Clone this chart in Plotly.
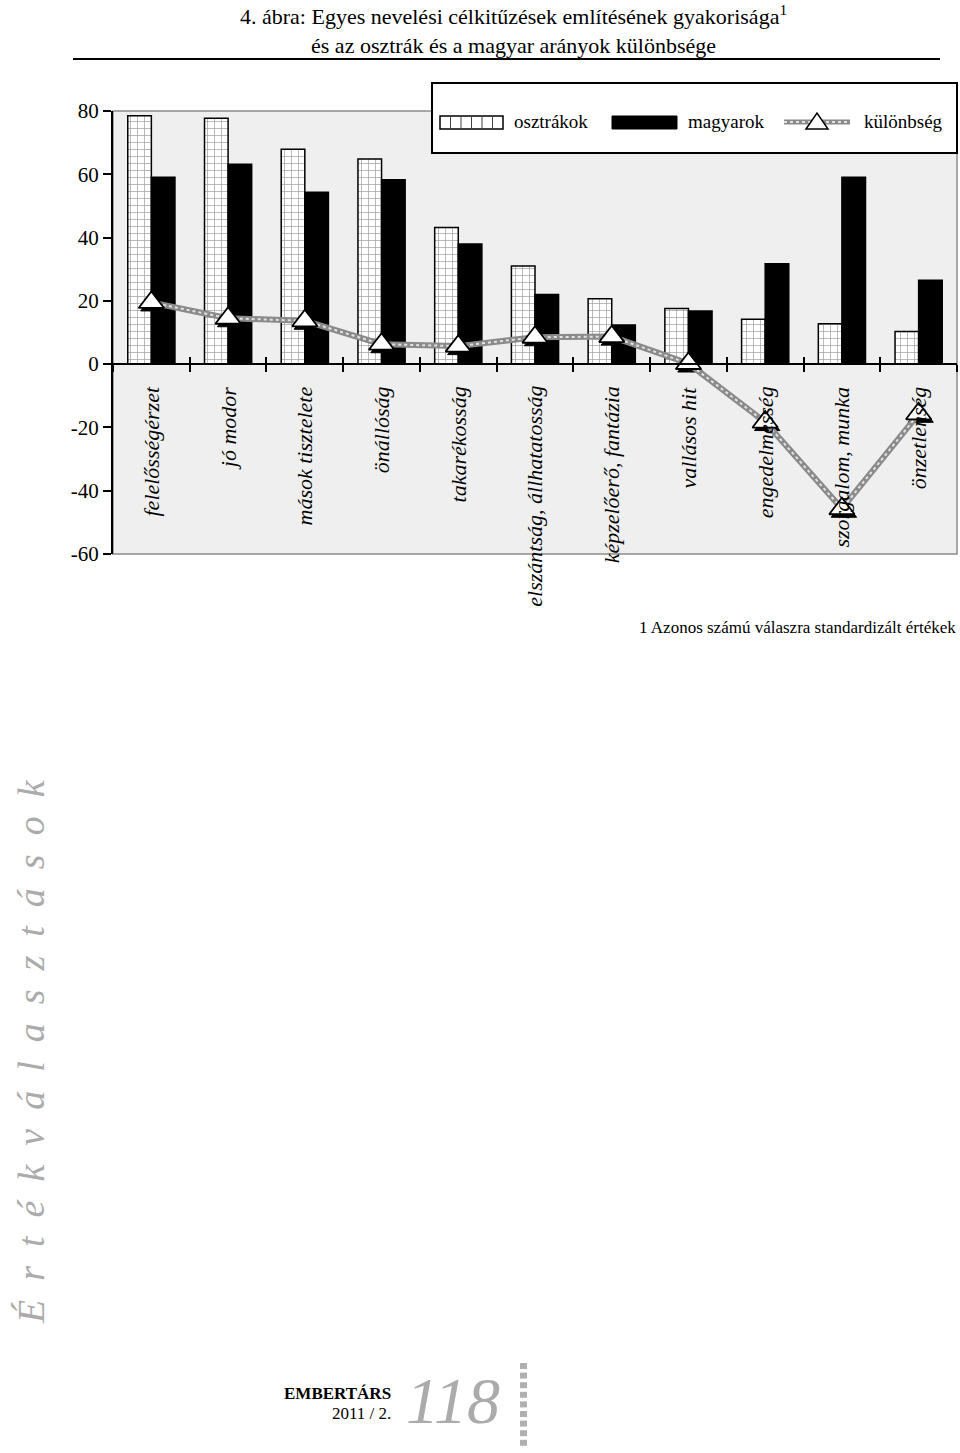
import plotly.graph_objects as go

categories = ["felelősségérzet", "jó modor", "mások tisztelete", "önállóság", "takarékosság",
              "elszántság, állhatatosság", "képzelőerő, fantázia", "vallásos hit",
              "engedelmesség", "szorgalom, munka", "önzetlenség"]
osztrakok = [78.5, 77.7, 67.9, 64.8, 43.2, 31.0, 20.7, 17.6, 14.2, 12.8, 10.3]
magyarok = [59.1, 63.2, 54.3, 58.3, 38.0, 22.0, 12.4, 16.8, 31.7, 59.1, 26.5]
kulonbseg = [19.5, 14.5, 13.7, 6.3, 5.7, 8.5, 8.7, 0.2, -18.3, -45.7, -15.7]
ytick_vals = [80, 60, 40, 20, 0, -20, -40, -60]
ytick_text = ["80", "60", "40", "20", "0", "-20", "-40", "-60"]
series_names = ["osztrákok", "magyarok", "különbség"]

W, H = 960, 1453
L, R, T, B = 113, 957, 111, 554
SERIF = "Liberation Serif"
YMIN, YMAX = -60, 80
XMIN, XMAX = -0.5, len(categories) - 0.5


def px(x):
    return (x - L) / (R - L)


def py(y):
    return (B - y) / (B - T)


# pixel shift for the marker shadow, expressed in axis units
shadow_dy = 3 * (YMAX - YMIN) / (B - T)
shadow_dx = 2 * (XMAX - XMIN) / (R - L)

fig = go.Figure()
fig.add_trace(go.Bar(
    x=categories, y=osztrakok, name=series_names[0],
    marker=dict(color="white", line=dict(color="black", width=1.5),
                pattern=dict(shape="+", size=7, solidity=0.2, fgcolor="#444", bgcolor="white")),
    hoverinfo="y"))
fig.add_trace(go.Bar(
    x=categories, y=magyarok, name=series_names[1],
    marker=dict(color="black", line=dict(color="black", width=1.5)),
    hoverinfo="y"))
# marker shadow (same data, on a slightly shifted overlay axis pair, drawn first)
fig.add_trace(go.Scatter(
    x=categories, y=kulonbseg, xaxis="x2", yaxis="y2", mode="markers",
    marker=dict(symbol="triangle-up", size=22, color="black", line=dict(color="black", width=1)),
    hoverinfo="skip"))
fig.add_trace(go.Scatter(
    x=categories, y=kulonbseg, xaxis="x3", mode="lines",
    line=dict(color="#8a8a8a", width=6), hoverinfo="skip"))
fig.add_trace(go.Scatter(
    x=categories, y=kulonbseg, xaxis="x3", mode="lines",
    line=dict(color="#e2e2e2", width=2, dash="dot"), hoverinfo="skip"))
fig.add_trace(go.Scatter(
    x=categories, y=kulonbseg, xaxis="x3", mode="markers", name=series_names[2],
    marker=dict(symbol="triangle-up", size=22, color="white", line=dict(color="black", width=1.8))))

zero_pos = (0 - YMIN) / (YMAX - YMIN)

fig.update_layout(
    width=W, height=H,
    margin=dict(l=L, r=W - R, t=T, b=H - B),
    paper_bgcolor="white", plot_bgcolor="#efefef",
    showlegend=False,
    barmode="group", bargap=0.385, bargroupgap=0,
    font=dict(family=SERIF, color="black"),
    xaxis=dict(type="category", categoryarray=categories, anchor="free", position=zero_pos,
               showline=True, linecolor="black", linewidth=2, ticks="outside", ticklen=7,
               tickwidth=2, tickcolor="black", tickson="boundaries", showticklabels=False,
               showgrid=False, zeroline=False, range=[XMIN, XMAX]),
    xaxis2=dict(type="category", categoryarray=categories, overlaying="x", anchor="y2",
                visible=False, range=[XMIN - shadow_dx, XMAX - shadow_dx]),
    xaxis3=dict(type="category", categoryarray=categories, overlaying="x", anchor="free",
                position=zero_pos, showline=False, ticks="inside", ticklen=7, tickwidth=2,
                tickcolor="black", tickson="boundaries", showticklabels=False,
                showgrid=False, zeroline=False, range=[XMIN, XMAX]),
    yaxis=dict(range=[YMIN, YMAX], tickvals=ytick_vals, ticktext=ytick_text,
               showline=True, linecolor="black", linewidth=2, ticks="outside", ticklen=8,
               tickwidth=2, tickcolor="black", showgrid=False, zeroline=False,
               tickfont=dict(family=SERIF, size=21, color="black")),
    yaxis2=dict(overlaying="y", anchor="x2", visible=False,
                range=[YMIN + shadow_dy, YMAX + shadow_dy]),
)

shapes = []
# plot border (top, right, bottom) in gray
shapes.append(dict(type="rect", xref="paper", yref="paper", x0=0, x1=1, y0=0, y1=1,
                   line=dict(color="#8c8c8c", width=1.5), layer="below"))
# title rule
shapes.append(dict(type="line", xref="paper", yref="paper", x0=px(73), x1=px(940), y0=py(59), y1=py(59),
                   line=dict(color="black", width=2)))
# legend box
shapes.append(dict(type="rect", xref="paper", yref="paper", x0=px(432), x1=px(957), y0=py(153), y1=py(83),
                   fillcolor="white", line=dict(color="black", width=2)))
# osztrakok swatch
shapes.append(dict(type="rect", xref="paper", yref="paper", x0=px(440), x1=px(503), y0=py(129), y1=py(116),
                   fillcolor="white", line=dict(color="black", width=1.5)))
for k in range(1, 6):
    xx = 440 + k * 10.5
    shapes.append(dict(type="line", xref="paper", yref="paper", x0=px(xx), x1=px(xx), y0=py(129), y1=py(116),
                       line=dict(color="#444", width=1)))
# magyarok swatch
shapes.append(dict(type="rect", xref="paper", yref="paper", x0=px(612), x1=px(677), y0=py(129), y1=py(116),
                   fillcolor="black", line=dict(color="black", width=1)))
# kulonbseg swatch
shapes.append(dict(type="line", xref="paper", yref="paper", x0=px(784), x1=px(850), y0=py(122), y1=py(122),
                   line=dict(color="#8a8a8a", width=5)))
shapes.append(dict(type="line", xref="paper", yref="paper", x0=px(784), x1=px(850), y0=py(122), y1=py(122),
                   line=dict(color="#e2e2e2", width=2, dash="dot")))
shapes.append(dict(type="path", xref="paper", yref="paper",
                   path=f"M{px(806)},{py(129)} L{px(817)},{py(113)} L{px(828)},{py(129)} Z",
                   fillcolor="white", line=dict(color="black", width=1.5)))
# page-number dotted column
for k in range(9):
    yy = 1363 + k * 9.6
    shapes.append(dict(type="rect", xref="paper", yref="paper", x0=px(520), x1=px(527),
                       y0=py(yy + 6), y1=py(yy), fillcolor="#b0b0b0", line=dict(width=0)))
fig.update_layout(shapes=shapes)

ann = []
# category labels, rotated, below the zero line
for c in categories:
    ann.append(dict(x=c, y=0, xref="x", yref="y", text=c, showarrow=False, textangle=-90,
                    xanchor="center", yanchor="top", yshift=-20,
                    font=dict(family=SERIF, size=22, style="italic", color="black")))
# title
ann.append(dict(x=px(513), y=py(29), xref="paper", yref="paper", showarrow=False,
                text="4. ábra: Egyes nevelési célkitűzések említésének gyakorisága<sup>1</sup><br>"
                     "és az osztrák és a magyar arányok különbsége",
                xanchor="center", yanchor="middle", align="center",
                font=dict(family=SERIF, size=22, color="black")))
# legend labels
for name, xx in zip(series_names, [512, 686, 862]):
    ann.append(dict(x=px(xx), y=py(122), xref="paper", yref="paper", text=name, showarrow=False,
                    xanchor="left", yanchor="middle", font=dict(family=SERIF, size=19, color="black")))
# footnote
ann.append(dict(x=px(958), y=py(627), xref="paper", yref="paper", showarrow=False,
                text="1 Azonos számú válaszra standardizált értékek", xanchor="right", yanchor="middle",
                font=dict(family=SERIF, size=17, color="black")))
# side title
ann.append(dict(x=px(31), y=py(1052), xref="paper", yref="paper", showarrow=False, textangle=-90,
                text="\u2002".join("Értékválasztások"), xanchor="center", yanchor="middle",
                font=dict(family=SERIF, size=38, style="italic", color="#ababab")))
# footer
ann.append(dict(x=px(393), y=py(1393), xref="paper", yref="paper", showarrow=False, text="<b>EMBERTÁRS</b>",
                xanchor="right", yanchor="middle", font=dict(family=SERIF, size=17, color="black")))
ann.append(dict(x=px(393), y=py(1413), xref="paper", yref="paper", showarrow=False, text="2011 / 2.",
                xanchor="right", yanchor="middle", font=dict(family=SERIF, size=17, color="black")))
ann.append(dict(x=px(453), y=py(1400), xref="paper", yref="paper", showarrow=False, text="118",
                xanchor="center", yanchor="middle",
                font=dict(family=SERIF, size=66, style="italic", color="#ababab")))
fig.update_layout(annotations=ann)

fig.write_html("out.html", config={"displayModeBar": False},
               post_script="document.body.style.margin='0';")
